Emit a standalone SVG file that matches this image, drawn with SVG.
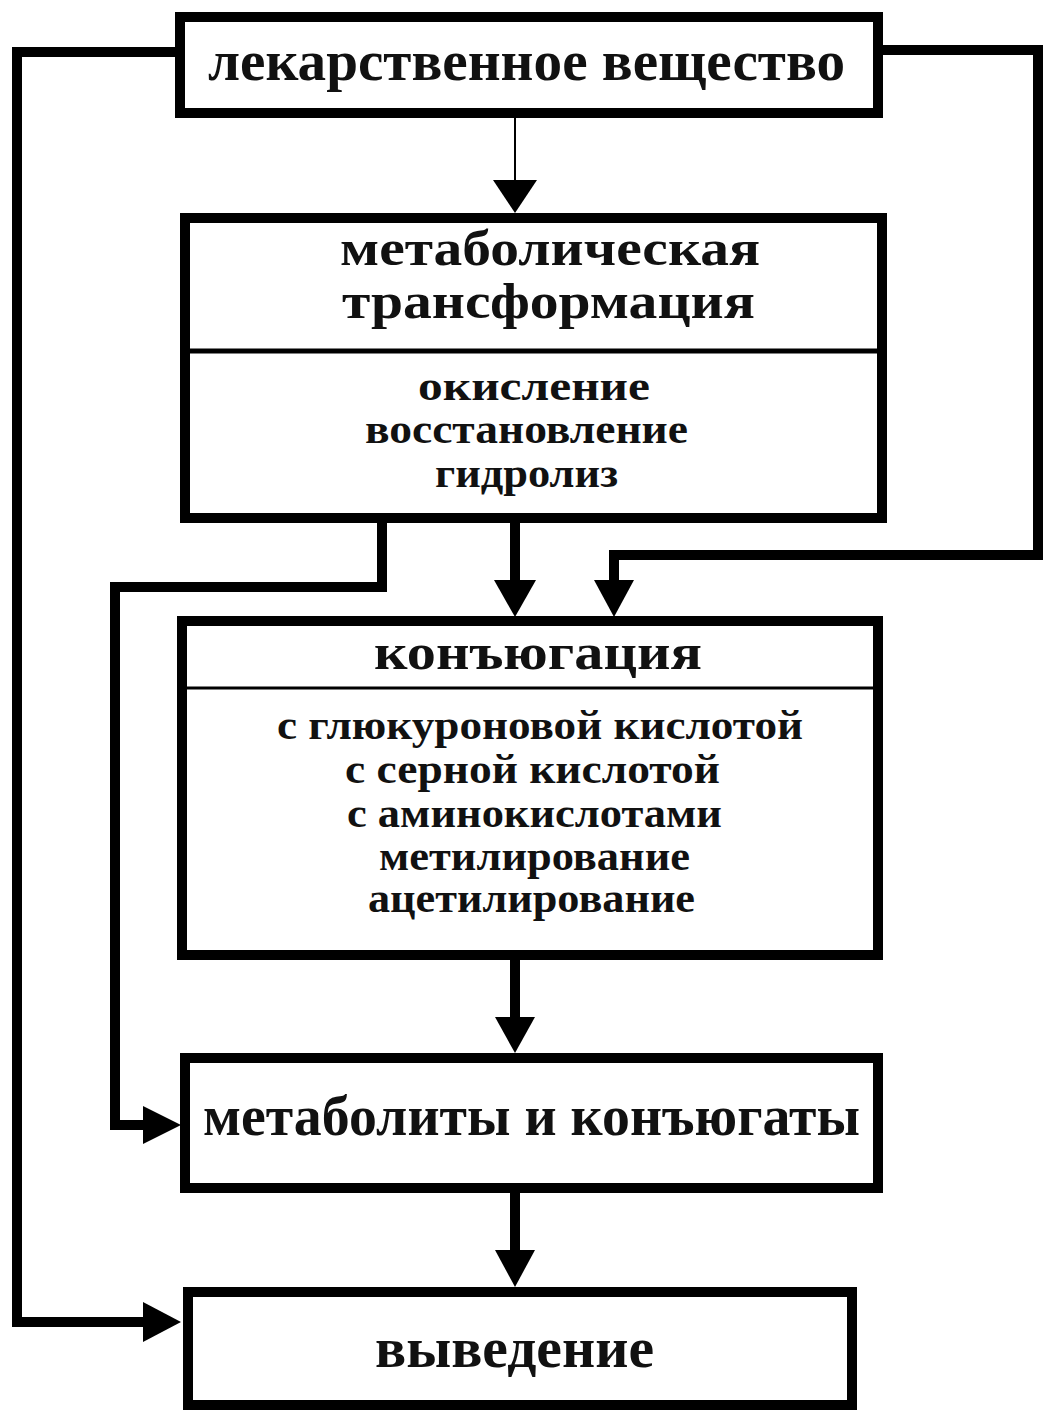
<svg xmlns="http://www.w3.org/2000/svg" width="1043" height="1410" viewBox="0 0 1043 1410">
  <style>
    .box { fill: #ffffff; stroke: #000000; stroke-width: 10; stroke-linejoin: miter; }
    .div-thick { stroke: #000000; stroke-width: 5; }
    .div-thin { stroke: #000000; stroke-width: 3; }
    .conn { fill: none; stroke: #000000; stroke-width: 10; stroke-linejoin: miter; stroke-linecap: butt; }
    .thin { fill: none; stroke: #000000; stroke-width: 2; }
    .head { fill: #000000; stroke: none; }
    text { font-family: "Liberation Serif", "Times New Roman", serif; font-weight: bold; fill: #111111; }
    .t1 { font-size: 57px; }
    .t2 { font-size: 50px; }
    .t3 { font-size: 42px; }
  </style>
  <rect width="1043" height="1410" fill="#ffffff"/>

  <g id="connectors">
    <line class="thin" x1="515" y1="118" x2="515" y2="182"/>
    <polygon class="head" points="493,180 537,180 515,213"/>
    <path class="conn" d="M180,52 H17 V1322 H146"/>
    <polygon class="head" points="143,1302 143,1342 181,1322"/>
    <path class="conn" d="M878,50 H1038 V555 H614 V582"/>
    <polygon class="head" points="594,580 634,580 614,617"/>
    <path class="conn" d="M382,523 V587 H115 V1125 H146"/>
    <polygon class="head" points="143,1106 143,1144 181,1125"/>
    <line class="conn" x1="515" y1="523" x2="515" y2="582"/>
    <polygon class="head" points="494,580 536,580 515,617"/>
    <line class="conn" x1="515" y1="960" x2="515" y2="1019"/>
    <polygon class="head" points="495,1017 535,1017 515,1053"/>
    <line class="conn" x1="515" y1="1193" x2="515" y2="1252"/>
    <polygon class="head" points="495,1250 535,1250 515,1287"/>
  </g>

  <g id="node-drug">
    <rect class="box" x="180" y="17" width="698" height="96"/>
    <text class="t1" x="208" y="80" textLength="637" lengthAdjust="spacingAndGlyphs">лекарственное вещество</text>
  </g>

  <g id="node-transformation">
    <rect class="box" x="185" y="218" width="697" height="300"/>
    <line class="div-thick" x1="185" y1="351" x2="882" y2="351"/>
    <text class="t2" x="340" y="265" textLength="420" lengthAdjust="spacingAndGlyphs">метаболическая</text>
    <text class="t2" x="342" y="318" textLength="413" lengthAdjust="spacingAndGlyphs">трансформация</text>
    <text class="t3" x="418" y="400" textLength="232" lengthAdjust="spacingAndGlyphs">окисление</text>
    <text class="t3" x="365" y="443" textLength="323" lengthAdjust="spacingAndGlyphs">восстановление</text>
    <text class="t3" x="435" y="487" textLength="183" lengthAdjust="spacingAndGlyphs">гидролиз</text>
  </g>

  <g id="node-conjugation">
    <rect class="box" x="182" y="621" width="696" height="334"/>
    <line class="div-thin" x1="182" y1="688" x2="878" y2="688"/>
    <text class="t2" x="374" y="669" textLength="328" lengthAdjust="spacingAndGlyphs">конъюгация</text>
    <text class="t3" x="277" y="739" textLength="526" lengthAdjust="spacingAndGlyphs">с глюкуроновой кислотой</text>
    <text class="t3" x="345" y="783" textLength="375" lengthAdjust="spacingAndGlyphs">с серной кислотой</text>
    <text class="t3" x="347" y="827" textLength="375" lengthAdjust="spacingAndGlyphs">с аминокислотами</text>
    <text class="t3" x="379" y="870" textLength="311" lengthAdjust="spacingAndGlyphs">метилирование</text>
    <text class="t3" x="368" y="912" textLength="327" lengthAdjust="spacingAndGlyphs">ацетилирование</text>
  </g>

  <g id="node-metabolites">
    <rect class="box" x="185" y="1058" width="693" height="130"/>
    <text class="t1" x="203" y="1135" textLength="657" lengthAdjust="spacingAndGlyphs">метаболиты и конъюгаты</text>
  </g>

  <g id="node-excretion">
    <rect class="box" x="188" y="1292" width="664" height="113"/>
    <text class="t1" x="375" y="1367" textLength="279" lengthAdjust="spacingAndGlyphs">выведение</text>
  </g>
</svg>
